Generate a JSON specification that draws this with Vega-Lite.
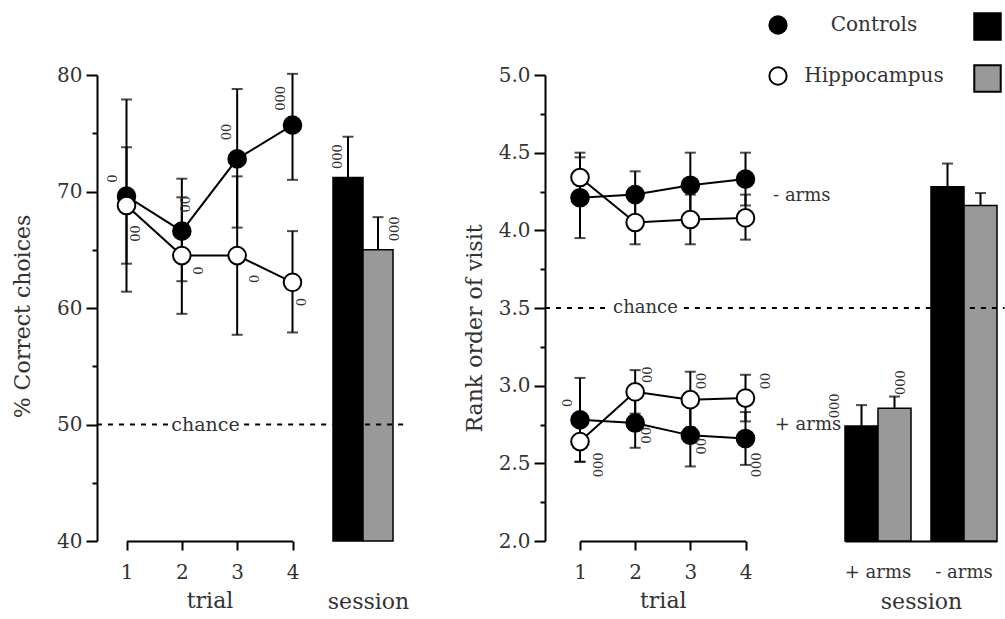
{
  "$schema": "https://vega.github.io/schema/vega-lite/v6.json",
  "width": 908,
  "height": 466,
  "autosize": {"type": "none"},
  "padding": {"left": 97, "top": 75, "right": 0, "bottom": 78},
  "background": "white",
  "config": {
    "view": {"stroke": null},
    "font": "DejaVu Serif",
    "axis": {
      "labelFont": "DejaVu Serif", "titleFont": "DejaVu Serif",
      "labelColor": "#333", "titleColor": "#333",
      "domainColor": "black", "tickColor": "black",
      "domainWidth": 2, "tickWidth": 2, "grid": false,
      "titleFontWeight": "normal", "labelFontSize": 20, "titleFontSize": 22
    },
    "legend": {"labelFont": "DejaVu Serif", "labelColor": "#333", "padding": 0}
  },
  "datasets": {
    "trials": [
      {"measure": "pct", "cond": "all", "group": "Controls", "trial": 1, "val": 69.6, "lo": 61.4, "hi": 77.9},
      {"measure": "pct", "cond": "all", "group": "Controls", "trial": 2, "val": 66.6, "lo": 62.3, "hi": 71.1},
      {"measure": "pct", "cond": "all", "group": "Controls", "trial": 3, "val": 72.8, "lo": 66.9, "hi": 78.8},
      {"measure": "pct", "cond": "all", "group": "Controls", "trial": 4, "val": 75.7, "lo": 71.0, "hi": 80.1},
      {"measure": "pct", "cond": "all", "group": "Hippocampus", "trial": 1, "val": 68.8, "lo": 63.8, "hi": 73.8},
      {"measure": "pct", "cond": "all", "group": "Hippocampus", "trial": 2, "val": 64.5, "lo": 59.5, "hi": 69.5},
      {"measure": "pct", "cond": "all", "group": "Hippocampus", "trial": 3, "val": 64.5, "lo": 57.7, "hi": 71.3},
      {"measure": "pct", "cond": "all", "group": "Hippocampus", "trial": 4, "val": 62.2, "lo": 57.9, "hi": 66.6},
      {"measure": "rank", "cond": "- arms", "group": "Controls", "trial": 1, "val": 4.21, "lo": 3.95, "hi": 4.47},
      {"measure": "rank", "cond": "- arms", "group": "Controls", "trial": 2, "val": 4.23, "lo": 4.08, "hi": 4.38},
      {"measure": "rank", "cond": "- arms", "group": "Controls", "trial": 3, "val": 4.29, "lo": 4.08, "hi": 4.50},
      {"measure": "rank", "cond": "- arms", "group": "Controls", "trial": 4, "val": 4.33, "lo": 4.16, "hi": 4.50},
      {"measure": "rank", "cond": "- arms", "group": "Hippocampus", "trial": 1, "val": 4.34, "lo": 4.18, "hi": 4.50},
      {"measure": "rank", "cond": "- arms", "group": "Hippocampus", "trial": 2, "val": 4.05, "lo": 3.91, "hi": 4.19},
      {"measure": "rank", "cond": "- arms", "group": "Hippocampus", "trial": 3, "val": 4.07, "lo": 3.91, "hi": 4.23},
      {"measure": "rank", "cond": "- arms", "group": "Hippocampus", "trial": 4, "val": 4.08, "lo": 3.94, "hi": 4.23},
      {"measure": "rank", "cond": "+ arms", "group": "Controls", "trial": 1, "val": 2.78, "lo": 2.51, "hi": 3.05},
      {"measure": "rank", "cond": "+ arms", "group": "Controls", "trial": 2, "val": 2.76, "lo": 2.60, "hi": 2.92},
      {"measure": "rank", "cond": "+ arms", "group": "Controls", "trial": 3, "val": 2.68, "lo": 2.48, "hi": 2.88},
      {"measure": "rank", "cond": "+ arms", "group": "Controls", "trial": 4, "val": 2.66, "lo": 2.49, "hi": 2.83},
      {"measure": "rank", "cond": "+ arms", "group": "Hippocampus", "trial": 1, "val": 2.64, "lo": 2.51, "hi": 2.77},
      {"measure": "rank", "cond": "+ arms", "group": "Hippocampus", "trial": 2, "val": 2.96, "lo": 2.82, "hi": 3.10},
      {"measure": "rank", "cond": "+ arms", "group": "Hippocampus", "trial": 3, "val": 2.91, "lo": 2.73, "hi": 3.09},
      {"measure": "rank", "cond": "+ arms", "group": "Hippocampus", "trial": 4, "val": 2.92, "lo": 2.77, "hi": 3.07}
    ],
    "sessions": [
      {"measure": "pct", "session": "session", "group": "Controls", "val": 71.2, "hi": 74.7},
      {"measure": "pct", "session": "session", "group": "Hippocampus", "val": 65.0, "hi": 67.8},
      {"measure": "rank", "session": "+ arms", "group": "Controls", "val": 2.74, "hi": 2.875},
      {"measure": "rank", "session": "+ arms", "group": "Hippocampus", "val": 2.855, "hi": 2.93},
      {"measure": "rank", "session": "- arms", "group": "Controls", "val": 4.28, "hi": 4.43},
      {"measure": "rank", "session": "- arms", "group": "Hippocampus", "val": 4.16, "hi": 4.24}
    ],
    "marks": [
      {"measure": "pct", "x": 0.76, "y": 71.1, "label": "0"},
      {"measure": "pct", "x": 1.18, "y": 66.4, "label": "00"},
      {"measure": "pct", "x": 2.08, "y": 68.9, "label": "00"},
      {"measure": "pct", "x": 2.31, "y": 63.2, "label": "0"},
      {"measure": "pct", "x": 2.81, "y": 75.1, "label": "00"},
      {"measure": "pct", "x": 3.32, "y": 62.5, "label": "0"},
      {"measure": "pct", "x": 3.80, "y": 78.0, "label": "000"},
      {"measure": "pct", "x": 4.18, "y": 60.5, "label": "0"},
      {"measure": "rank", "x": 0.79, "y": 2.89, "label": "0"},
      {"measure": "rank", "x": 1.35, "y": 2.49, "label": "000"},
      {"measure": "rank", "x": 2.24, "y": 3.07, "label": "00"},
      {"measure": "rank", "x": 2.21, "y": 2.68, "label": "00"},
      {"measure": "rank", "x": 3.22, "y": 3.03, "label": "00"},
      {"measure": "rank", "x": 3.22, "y": 2.61, "label": "00"},
      {"measure": "rank", "x": 4.37, "y": 3.03, "label": "00"},
      {"measure": "rank", "x": 4.21, "y": 2.49, "label": "000"}
    ],
    "sessMarks": [
      {"measure": "pct", "session": "session", "group": "Controls", "y": 73.0, "label": "000"},
      {"measure": "pct", "session": "session", "group": "Hippocampus", "y": 66.8, "label": "000"},
      {"measure": "rank", "session": "+ arms", "group": "Controls", "y": 2.87, "label": "000"},
      {"measure": "rank", "session": "+ arms", "group": "Hippocampus", "y": 3.02, "label": "000"}
    ],
    "chance": [
      {"measure": "pct", "x1": 0.466, "x2": 1.751, "y": 50},
      {"measure": "pct", "x1": 3.126, "x2": 6.04, "y": 50},
      {"measure": "rank", "x1": 0.366, "x2": 1.543, "y": 3.5},
      {"measure": "rank", "x1": 2.883, "x2": 8.695, "y": 3.5}
    ],
    "notes": [
      {"measure": "pct", "x": 1.81, "y": 50, "label": "chance"},
      {"measure": "rank", "x": 1.6, "y": 3.5, "label": "chance"},
      {"measure": "rank", "x": 4.5, "y": 4.22, "label": "- arms"},
      {"measure": "rank", "x": 4.53, "y": 2.75, "label": "+ arms"}
    ]
  },
  "layer": [
    {
      "data": {"name": "sessions"},
      "transform": [{"filter": "datum.measure === 'pct'"}],
      "mark": {"type": "bar", "stroke": "black", "strokeWidth": 1.5},
      "encoding": {
        "x": {"field": "group", "type": "nominal", "sort": ["Controls", "Hippocampus"],
              "scale": {"domain": ["Controls", "Hippocampus"], "range": [236, 296], "paddingInner": 0, "paddingOuter": 0},
              "axis": {"orient": "bottom", "title": "session", "labels": false, "ticks": false, "domain": false, "titlePadding": 50, "titleX": 271}},
        "y": {"field": "val", "type": "quantitative", "scale": {"domain": [40, 80], "nice": false, "zero": false}, "axis": null},
        "y2": {"datum": 40},
        "fill": {"field": "group", "type": "nominal", "scale": {"domain": ["Controls", "Hippocampus"], "range": ["black", "#999999"]}, "legend": null}
      }
    },
    {
      "data": {"name": "sessions"},
      "transform": [{"filter": "datum.measure === 'pct'"}],
      "mark": {"type": "rule", "color": "black", "strokeWidth": 2},
      "encoding": {
        "x": {"field": "group", "type": "nominal", "scale": {"domain": ["Controls", "Hippocampus"], "range": [236, 296], "paddingInner": 0, "paddingOuter": 0}, "axis": null},
        "y": {"field": "val", "type": "quantitative", "scale": {"domain": [40, 80], "nice": false, "zero": false}, "axis": null},
        "y2": {"field": "hi"}
      }
    },
    {
      "data": {"name": "sessions"},
      "transform": [{"filter": "datum.measure === 'pct'"}],
      "mark": {"type": "tick", "orient": "horizontal", "color": "black", "size": 11, "thickness": 2},
      "encoding": {
        "x": {"field": "group", "type": "nominal", "scale": {"domain": ["Controls", "Hippocampus"], "range": [236, 296], "paddingInner": 0, "paddingOuter": 0}, "axis": null},
        "y": {"field": "hi", "type": "quantitative", "scale": {"domain": [40, 80], "nice": false, "zero": false}, "axis": null}
      }
    },
    {
      "data": {"name": "sessMarks"},
      "transform": [{"filter": "datum.measure === 'pct' && datum.group === 'Controls'"}],
      "mark": {"type": "text", "font": "DejaVu Serif", "fontSize": 13, "angle": 270, "color": "#333", "dy": -10},
      "encoding": {
        "x": {"field": "group", "type": "nominal", "scale": {"domain": ["Controls", "Hippocampus"], "range": [236, 296], "paddingInner": 0, "paddingOuter": 0}, "axis": null},
        "y": {"field": "y", "type": "quantitative", "scale": {"domain": [40, 80], "nice": false, "zero": false}, "axis": null},
        "text": {"field": "label"}
      }
    },
    {
      "data": {"name": "sessMarks"},
      "transform": [{"filter": "datum.measure === 'pct' && datum.group === 'Hippocampus'"}],
      "mark": {"type": "text", "font": "DejaVu Serif", "fontSize": 13, "angle": 270, "color": "#333", "dy": 17},
      "encoding": {
        "x": {"field": "group", "type": "nominal", "scale": {"domain": ["Controls", "Hippocampus"], "range": [236, 296], "paddingInner": 0, "paddingOuter": 0}, "axis": null},
        "y": {"field": "y", "type": "quantitative", "scale": {"domain": [40, 80], "nice": false, "zero": false}, "axis": null},
        "text": {"field": "label"}
      }
    },
    {
      "data": {"name": "chance"},
      "transform": [{"filter": "datum.measure === 'pct'"}],
      "mark": {"type": "rule", "color": "black", "strokeWidth": 2, "strokeDash": [5, 6]},
      "encoding": {
        "x": {"field": "x1", "type": "quantitative", "scale": {"domain": [1, 4], "range": [29.5, 195.5], "nice": false, "zero": false}, "axis": null},
        "x2": {"field": "x2"},
        "y": {"field": "y", "type": "quantitative", "scale": {"domain": [40, 80], "nice": false, "zero": false}, "axis": null}
      }
    },
    {
      "data": {"name": "notes"},
      "transform": [{"filter": "datum.measure === 'pct'"}],
      "mark": {"type": "text", "font": "DejaVu Serif", "fontSize": 19, "align": "left", "baseline": "middle", "color": "#333"},
      "encoding": {
        "x": {"field": "x", "type": "quantitative", "scale": {"domain": [1, 4], "range": [29.5, 195.5], "nice": false, "zero": false}, "axis": null},
        "y": {"field": "y", "type": "quantitative", "scale": {"domain": [40, 80], "nice": false, "zero": false}, "axis": null},
        "text": {"field": "label"}
      }
    },
    {
      "data": {"name": "trials"},
      "transform": [{"filter": "datum.measure === 'pct'"}],
      "mark": {"type": "rule", "color": "black", "strokeWidth": 2},
      "encoding": {
        "x": {"field": "trial", "type": "quantitative", "scale": {"domain": [1, 4], "range": [29.5, 195.5], "nice": false, "zero": false}, "axis": null},
        "y": {"field": "lo", "type": "quantitative", "scale": {"domain": [40, 80], "nice": false, "zero": false}, "axis": null},
        "y2": {"field": "hi"}
      }
    },
    {
      "data": {"name": "trials"},
      "transform": [{"filter": "datum.measure === 'pct'"}],
      "mark": {"type": "tick", "orient": "horizontal", "color": "black", "size": 11, "thickness": 2},
      "encoding": {
        "x": {"field": "trial", "type": "quantitative", "scale": {"domain": [1, 4], "range": [29.5, 195.5], "nice": false, "zero": false}, "axis": null},
        "y": {"field": "lo", "type": "quantitative", "scale": {"domain": [40, 80], "nice": false, "zero": false}, "axis": null}
      }
    },
    {
      "data": {"name": "trials"},
      "transform": [{"filter": "datum.measure === 'pct'"}],
      "mark": {"type": "tick", "orient": "horizontal", "color": "black", "size": 11, "thickness": 2},
      "encoding": {
        "x": {"field": "trial", "type": "quantitative", "scale": {"domain": [1, 4], "range": [29.5, 195.5], "nice": false, "zero": false}, "axis": null},
        "y": {"field": "hi", "type": "quantitative", "scale": {"domain": [40, 80], "nice": false, "zero": false}, "axis": null}
      }
    },
    {
      "data": {"name": "trials"},
      "transform": [{"filter": "datum.measure === 'pct'"}],
      "mark": {"type": "line", "color": "black", "strokeWidth": 2},
      "encoding": {
        "x": {"field": "trial", "type": "quantitative", "scale": {"domain": [1, 4], "range": [29.5, 195.5], "nice": false, "zero": false}, "axis": null},
        "y": {"field": "val", "type": "quantitative", "scale": {"domain": [40, 80], "nice": false, "zero": false}, "axis": null},
        "detail": {"field": "group"}
      }
    },
    {
      "data": {"name": "trials"},
      "transform": [{"filter": "datum.measure === 'pct'"}],
      "mark": {"type": "point", "shape": "circle", "filled": true, "size": 310, "stroke": "black", "strokeWidth": 2, "opacity": 1},
      "encoding": {
        "x": {"field": "trial", "type": "quantitative", "scale": {"domain": [1, 4], "range": [29.5, 195.5], "nice": false, "zero": false},
              "axis": {"orient": "bottom", "title": "trial", "values": [1, 2, 3, 4], "format": "d", "labelFlush": false, "labelOverlap": false, "tickSize": 9, "labelPadding": 12, "titlePadding": 8, "labelAngle": 0}},
        "y": {"field": "val", "type": "quantitative", "scale": {"domain": [40, 80], "nice": false, "zero": false},
              "axis": {"orient": "left", "title": "% Correct choices", "values": [40, 45, 50, 55, 60, 65, 70, 75, 80],
                       "labelExpr": "datum.value % 10 === 0 ? datum.label : ''",
                       "tickSize": {"condition": {"test": "datum.value % 10 === 0", "value": 11}, "value": 5},
                       "labelPadding": 4, "titlePadding": 22, "titleY": 241, "labelOverlap": false}},
        "fill": {"field": "group", "type": "nominal", "scale": {"domain": ["Controls", "Hippocampus"], "range": ["black", "white"]}, "legend": null}
      }
    },
    {
      "data": {"name": "marks"},
      "transform": [{"filter": "datum.measure === 'pct'"}],
      "mark": {"type": "text", "font": "DejaVu Serif", "fontSize": 13, "angle": 270, "color": "#333", "baseline": "middle"},
      "encoding": {
        "x": {"field": "x", "type": "quantitative", "scale": {"domain": [1, 4], "range": [29.5, 195.5], "nice": false, "zero": false}, "axis": null},
        "y": {"field": "y", "type": "quantitative", "scale": {"domain": [40, 80], "nice": false, "zero": false}, "axis": null},
        "text": {"field": "label"}
      }
    },
    {
      "data": {"name": "sessions"},
      "transform": [{"filter": "datum.measure === 'rank'"}],
      "mark": {"type": "bar", "stroke": "black", "strokeWidth": 1.5},
      "encoding": {
        "x": {"field": "session", "type": "nominal", "sort": ["+ arms", "- arms"],
              "scale": {"domain": ["+ arms", "- arms"], "range": [748, 900], "paddingInner": 0.2326, "paddingOuter": 0},
              "axis": {"orient": "bottom", "title": "session", "ticks": false, "domain": true, "labelPadding": 22, "labelFontSize": 18, "titlePadding": 10, "labelAngle": 0}},
        "xOffset": {"field": "group", "type": "nominal", "scale": {"domain": ["Controls", "Hippocampus"], "paddingInner": 0, "paddingOuter": 0}},
        "y": {"field": "val", "type": "quantitative", "scale": {"domain": [2, 5], "nice": false, "zero": false}, "axis": null},
        "y2": {"datum": 2},
        "fill": {"field": "group", "type": "nominal", "scale": {"domain": ["Controls", "Hippocampus"], "range": ["black", "#999999"]},
                 "legend": {"orient": "none", "legendX": 876, "legendY": -63, "title": null, "symbolType": "square", "symbolSize": 700,
                            "symbolStrokeColor": "black", "symbolStrokeWidth": 2, "labelExpr": "''", "labelFontSize": 2, "rowPadding": 17}}
      }
    },
    {
      "data": {"name": "sessions"},
      "transform": [{"filter": "datum.measure === 'rank'"}],
      "mark": {"type": "rule", "color": "black", "strokeWidth": 2},
      "encoding": {
        "x": {"field": "session", "type": "nominal", "scale": {"domain": ["+ arms", "- arms"], "range": [748, 900], "paddingInner": 0.2326, "paddingOuter": 0}, "axis": null},
        "xOffset": {"field": "group", "type": "nominal", "scale": {"domain": ["Controls", "Hippocampus"], "paddingInner": 0, "paddingOuter": 0}},
        "y": {"field": "val", "type": "quantitative", "scale": {"domain": [2, 5], "nice": false, "zero": false}, "axis": null},
        "y2": {"field": "hi"}
      }
    },
    {
      "data": {"name": "sessions"},
      "transform": [{"filter": "datum.measure === 'rank'"}],
      "mark": {"type": "tick", "orient": "horizontal", "color": "black", "size": 11, "thickness": 2},
      "encoding": {
        "x": {"field": "session", "type": "nominal", "scale": {"domain": ["+ arms", "- arms"], "range": [748, 900], "paddingInner": 0.2326, "paddingOuter": 0}, "axis": null},
        "xOffset": {"field": "group", "type": "nominal", "scale": {"domain": ["Controls", "Hippocampus"], "paddingInner": 0, "paddingOuter": 0}},
        "y": {"field": "hi", "type": "quantitative", "scale": {"domain": [2, 5], "nice": false, "zero": false}, "axis": null}
      }
    },
    {
      "data": {"name": "sessMarks"},
      "transform": [{"filter": "datum.measure === 'rank'"}],
      "mark": {"type": "text", "font": "DejaVu Serif", "fontSize": 13, "angle": 270, "color": "#333", "dy": -10},
      "encoding": {
        "x": {"field": "session", "type": "nominal", "scale": {"domain": ["+ arms", "- arms"], "range": [748, 900], "paddingInner": 0.2326, "paddingOuter": 0}, "axis": null},
        "xOffset": {"field": "group", "type": "nominal", "scale": {"domain": ["Controls", "Hippocampus"], "paddingInner": 0, "paddingOuter": 0}},
        "y": {"field": "y", "type": "quantitative", "scale": {"domain": [2, 5], "nice": false, "zero": false}, "axis": null},
        "text": {"field": "label"}
      }
    },
    {
      "data": {"name": "chance"},
      "transform": [{"filter": "datum.measure === 'rank'"}],
      "mark": {"type": "rule", "color": "black", "strokeWidth": 2, "strokeDash": [5, 6]},
      "encoding": {
        "x": {"field": "x1", "type": "quantitative", "scale": {"domain": [1, 4], "range": [483, 648.5], "nice": false, "zero": false}, "axis": null},
        "x2": {"field": "x2"},
        "y": {"field": "y", "type": "quantitative", "scale": {"domain": [2, 5], "nice": false, "zero": false}, "axis": null}
      }
    },
    {
      "data": {"name": "notes"},
      "transform": [{"filter": "datum.measure === 'rank'"}],
      "mark": {"type": "text", "font": "DejaVu Serif", "fontSize": 18, "align": "left", "baseline": "middle", "color": "#333"},
      "encoding": {
        "x": {"field": "x", "type": "quantitative", "scale": {"domain": [1, 4], "range": [483, 648.5], "nice": false, "zero": false}, "axis": null},
        "y": {"field": "y", "type": "quantitative", "scale": {"domain": [2, 5], "nice": false, "zero": false}, "axis": null},
        "text": {"field": "label"}
      }
    },
    {
      "data": {"name": "trials"},
      "transform": [{"filter": "datum.measure === 'rank'"}],
      "mark": {"type": "rule", "color": "black", "strokeWidth": 2},
      "encoding": {
        "x": {"field": "trial", "type": "quantitative", "scale": {"domain": [1, 4], "range": [483, 648.5], "nice": false, "zero": false}, "axis": null},
        "y": {"field": "lo", "type": "quantitative", "scale": {"domain": [2, 5], "nice": false, "zero": false}, "axis": null},
        "y2": {"field": "hi"}
      }
    },
    {
      "data": {"name": "trials"},
      "transform": [{"filter": "datum.measure === 'rank'"}],
      "mark": {"type": "tick", "orient": "horizontal", "color": "black", "size": 11, "thickness": 2},
      "encoding": {
        "x": {"field": "trial", "type": "quantitative", "scale": {"domain": [1, 4], "range": [483, 648.5], "nice": false, "zero": false}, "axis": null},
        "y": {"field": "lo", "type": "quantitative", "scale": {"domain": [2, 5], "nice": false, "zero": false}, "axis": null}
      }
    },
    {
      "data": {"name": "trials"},
      "transform": [{"filter": "datum.measure === 'rank'"}],
      "mark": {"type": "tick", "orient": "horizontal", "color": "black", "size": 11, "thickness": 2},
      "encoding": {
        "x": {"field": "trial", "type": "quantitative", "scale": {"domain": [1, 4], "range": [483, 648.5], "nice": false, "zero": false}, "axis": null},
        "y": {"field": "hi", "type": "quantitative", "scale": {"domain": [2, 5], "nice": false, "zero": false}, "axis": null}
      }
    },
    {
      "data": {"name": "trials"},
      "transform": [{"filter": "datum.measure === 'rank'"}],
      "mark": {"type": "line", "color": "black", "strokeWidth": 2},
      "encoding": {
        "x": {"field": "trial", "type": "quantitative", "scale": {"domain": [1, 4], "range": [483, 648.5], "nice": false, "zero": false}, "axis": null},
        "y": {"field": "val", "type": "quantitative", "scale": {"domain": [2, 5], "nice": false, "zero": false}, "axis": null},
        "detail": [{"field": "group"}, {"field": "cond"}]
      }
    },
    {
      "data": {"name": "trials"},
      "transform": [{"filter": "datum.measure === 'rank'"}],
      "mark": {"type": "point", "shape": "circle", "filled": true, "size": 310, "stroke": "black", "strokeWidth": 2, "opacity": 1},
      "encoding": {
        "x": {"field": "trial", "type": "quantitative", "scale": {"domain": [1, 4], "range": [483, 648.5], "nice": false, "zero": false},
              "axis": {"orient": "bottom", "title": "trial", "values": [1, 2, 3, 4], "format": "d", "labelFlush": false, "labelOverlap": false, "tickSize": 9, "labelPadding": 12, "titlePadding": 8, "labelAngle": 0}},
        "y": {"field": "val", "type": "quantitative", "scale": {"domain": [2, 5], "nice": false, "zero": false},
              "axis": {"orient": "left", "offset": -448, "title": "Rank order of visit",
                       "values": [2, 2.25, 2.5, 2.75, 3, 3.25, 3.5, 3.75, 4, 4.25, 4.5, 4.75, 5],
                       "labelExpr": "datum.value % 0.5 === 0 ? format(datum.value, '.1f') : ''",
                       "tickSize": {"condition": {"test": "datum.value % 0.5 === 0", "value": 11}, "value": 5},
                       "labelPadding": 4, "titlePadding": 12, "titleY": 253, "labelOverlap": false}},
        "fill": {"field": "group", "type": "nominal", "scale": {"domain": ["Controls", "Hippocampus"], "range": ["black", "white"]},
                 "legend": {"orient": "none", "legendX": 671, "legendY": -60, "title": null, "symbolType": "circle", "symbolSize": 300,
                            "symbolStrokeColor": "black", "symbolStrokeWidth": 2, "labelFontSize": 20, "labelAlign": "center",
                            "labelOffset": 86, "rowPadding": 25}}
      }
    },
    {
      "data": {"name": "marks"},
      "transform": [{"filter": "datum.measure === 'rank'"}],
      "mark": {"type": "text", "font": "DejaVu Serif", "fontSize": 13, "angle": 270, "color": "#333", "baseline": "middle"},
      "encoding": {
        "x": {"field": "x", "type": "quantitative", "scale": {"domain": [1, 4], "range": [483, 648.5], "nice": false, "zero": false}, "axis": null},
        "y": {"field": "y", "type": "quantitative", "scale": {"domain": [2, 5], "nice": false, "zero": false}, "axis": null},
        "text": {"field": "label"}
      }
    }
  ],
  "resolve": {
    "scale": {"x": "independent", "y": "independent", "fill": "independent", "xOffset": "independent"},
    "axis": {"x": "independent", "y": "independent"},
    "legend": {"fill": "independent"}
  }
}
